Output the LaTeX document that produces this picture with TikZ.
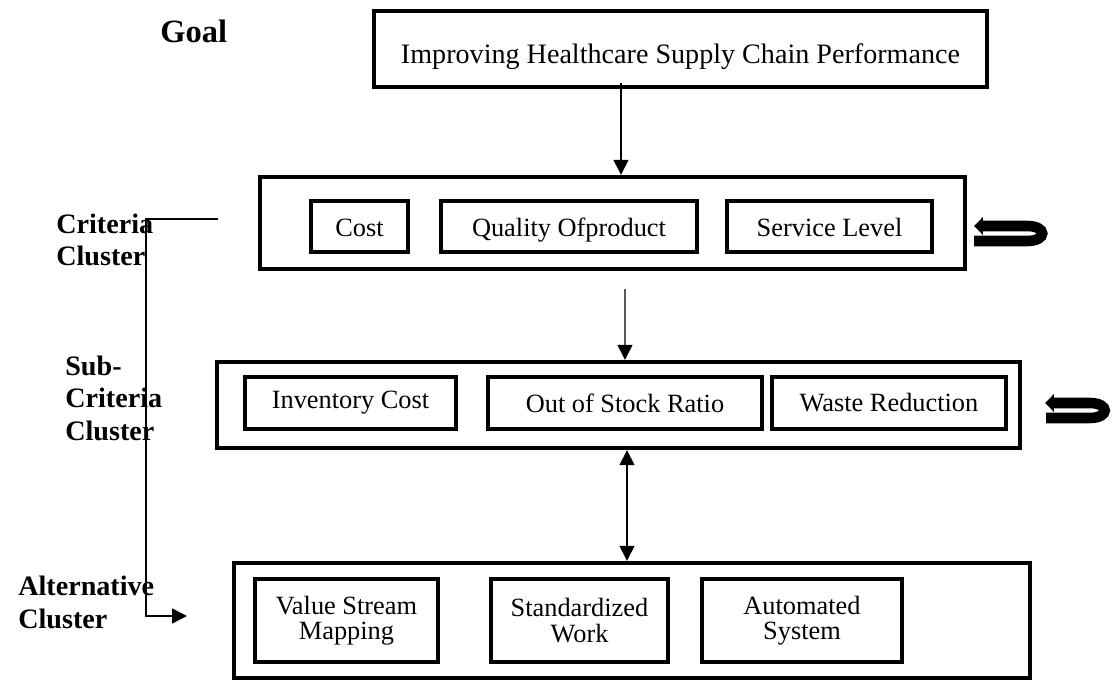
\documentclass[tikz,border=0pt]{standalone}
\usepackage{fontspec}
\setmainfont{Liberation Serif}
\usetikzlibrary{arrows.meta, positioning, calc}

\tikzset{
    cluster/.style={rectangle, draw, line width=2.5pt, inner sep=0pt},
    factor/.style={rectangle, draw, line width=2.4pt, inner sep=0pt, align=center, font=\fontsize{15}{14.5}\selectfont},
    heading/.style={anchor=west, align=left, inner sep=0pt, font=\fontsize{16}{18.5}\selectfont\bfseries},
    link/.style={-{Triangle[length=8.5pt,width=8.5pt]}, line width=0.8pt},
    loopback/.style={-{Triangle[length=5pt,width=10pt]}, line width=6pt}
}

\begin{document}
\begin{tikzpicture}
    \useasboundingbox (0,0) rectangle (22.3,13.62);

    % Cluster headings
    \node[heading, font=\fontsize{18.5}{21}\selectfont\bfseries] (goallbl) at (3.2,13.0) {Goal};
    \node[heading] (critlbl) at (1.12,8.82) {Criteria\\Cluster};
    \node[heading] (sublbl) at (1.3,5.66) {Sub-\\Criteria\\Cluster};
    \node[heading] (altlbl) at (0.36,1.57) {Alternative\\Cluster};

    % Goal
    \node[cluster, minimum width=12.26cm, minimum height=1.52cm, text height=0.71cm, text depth=0.12cm, font=\fontsize{16}{19}\selectfont] (goal) at (13.61,12.64) {Improving Healthcare Supply Chain Performance};

    % Criteria cluster
    \node[cluster, minimum width=14.1cm, minimum height=1.84cm] (crit) at (12.25,9.16) {};
    \node[factor, minimum width=1.94cm, minimum height=1.02cm, text height=0.5cm, text depth=0.08cm] (cost) at (7.19,9.09) {Cost};
    \node[factor, minimum width=5.12cm, minimum height=1.02cm, text height=0.5cm, text depth=0.08cm] (quality) at (11.38,9.09) {Quality Ofproduct};
    \node[factor, minimum width=4.1cm, minimum height=1.02cm, text height=0.5cm, text depth=0.08cm] (service) at (16.59,9.09) {Service Level};

    % Sub-criteria cluster
    \node[cluster, minimum width=16.06cm, minimum height=1.72cm] (sub) at (12.37,5.52) {};
    \node[factor, minimum width=4.22cm, minimum height=1.04cm] (invcost) at (7.01,5.56) {Inventory Cost};
    \node[factor, minimum width=5.48cm, minimum height=1.04cm] (stock) at (12.5,5.56) {Out of Stock Ratio};
    \node[factor, minimum width=4.68cm, minimum height=1.04cm] (waste) at (17.78,5.56) {Waste Reduction};

    % Alternative cluster
    \node[cluster, minimum width=15.92cm, minimum height=2.3cm] (alt) at (12.64,1.21) {};
    \node[factor, minimum width=3.66cm, minimum height=1.66cm] (vsm) at (6.93,1.21) {Value Stream\\Mapping};
    \node[factor, minimum width=3.54cm, minimum height=1.66cm] (stdwork) at (11.59,1.21) {Standardized\\Work};
    \node[factor, minimum width=4.0cm, minimum height=1.66cm] (auto) at (16.04,1.21) {Automated\\System};

    % Links between clusters
    \draw[link] ([xshift=-1.19cm, yshift=0.12cm]goal.south) -- ([xshift=0.17cm]crit.north);
    \draw[link] ([xshift=0.25cm, yshift=-0.36cm]crit.south) -- ([xshift=0.13cm]sub.north);
    \draw[{Triangle[length=8.5pt,width=8.5pt]}-{Triangle[length=8.5pt,width=8.5pt]}, line width=0.8pt] ([xshift=0.17cm]sub.south) -- ([xshift=-0.1cm]alt.north);

    % Feedback from criteria to alternatives
    \coordinate (fbstart) at (4.36,9.24);
    \coordinate (fbend) at (3.74,1.3);
    \draw[link] (fbstart) -- (2.92,9.24) |- (fbend);

    % Inner dependence loops
    \draw[loopback] ([shift={(0.14,-0.36)}]crit.east) -- ++(1.06,0) .. controls +(0.4,0) and +(0.4,0) .. ++(0,0.3) -- ++(-1.06,0);
    \draw[loopback] ([shift={(0.48,-0.26)}]sub.east) -- ++(0.87,0) .. controls +(0.4,0) and +(0.4,0) .. ++(0,0.3) -- ++(-0.89,0);
\end{tikzpicture}
\end{document}
